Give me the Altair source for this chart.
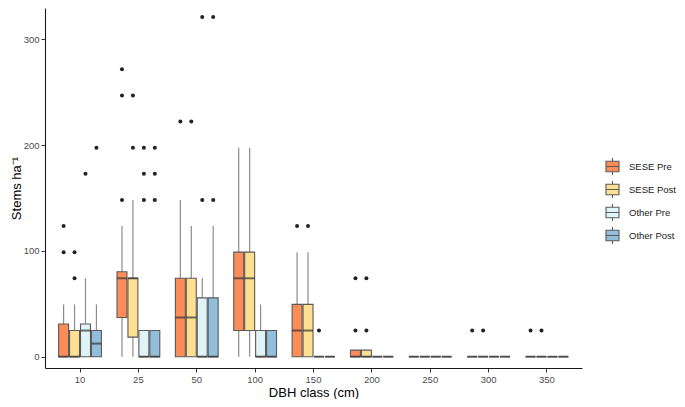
import altair as alt
import pandas as pd

classes = ["10", "25", "50", "100", "150", "200", "250", "300", "350"]
groups = ["SESE Pre", "SESE Post", "Other Pre", "Other Post"]
colors = ["#FC8D59", "#FEE090", "#E0F3F8", "#91BFDB"]

# box statistics per group, one value per DBH class
sese_pre_lower = [0, 0, 0, 0, 0, 0, 0, 0, 0]
sese_pre_q1 = [0, 37.05, 0, 24.7, 0, 0, 0, 0, 0]
sese_pre_med = [0, 74.1, 37.05, 74.1, 24.7, 0, 0, 0, 0]
sese_pre_q3 = [30.9, 80.3, 74.1, 98.8, 49.4, 6.2, 0, 0, 0]
sese_pre_upper = [49.4, 123.5, 148.2, 197.6, 98.8, 0, 0, 0, 0]
sese_pre_out = [[98.8, 123.5], [148.2, 247, 271.7], [222.3], [], [123.5], [24.7, 74.1], [], [24.7], [24.7]]

sese_post_lower = [0, 0, 0, 0, 0, 0, 0, 0, 0]
sese_post_q1 = [0, 18.5, 0, 24.7, 0, 0, 0, 0, 0]
sese_post_med = [0, 74.1, 37.05, 74.1, 24.7, 0, 0, 0, 0]
sese_post_q3 = [24.7, 74.1, 74.1, 98.8, 49.4, 6.2, 0, 0, 0]
sese_post_upper = [49.4, 148.2, 123.5, 197.6, 98.8, 0, 0, 0, 0]
sese_post_out = [[74.1, 98.8], [197.6, 247], [222.3], [], [123.5], [24.7, 74.1], [], [24.7], [24.7]]

other_pre_lower = [0, 0, 0, 0, 0, 0, 0, 0, 0]
other_pre_q1 = [0, 0, 0, 0, 0, 0, 0, 0, 0]
other_pre_med = [24.7, 0, 0, 0, 0, 0, 0, 0, 0]
other_pre_q3 = [30.9, 24.7, 55.6, 24.7, 0, 0, 0, 0, 0]
other_pre_upper = [74.1, 24.7, 74.1, 49.4, 0, 0, 0, 0, 0]
other_pre_out = [[172.9], [148.2, 172.9, 197.6], [148.2, 321.1], [], [24.7], [], [], [], []]

other_post_lower = [0, 0, 0, 0, 0, 0, 0, 0, 0]
other_post_q1 = [0, 0, 0, 0, 0, 0, 0, 0, 0]
other_post_med = [12.35, 0, 0, 0, 0, 0, 0, 0, 0]
other_post_q3 = [24.7, 24.7, 55.6, 24.7, 0, 0, 0, 0, 0]
other_post_upper = [49.4, 24.7, 123.5, 24.7, 0, 0, 0, 0, 0]
other_post_out = [[197.6], [148.2, 172.9, 197.6], [148.2, 321.1], [], [], [], [], [], []]

stats = {
    "SESE Pre": (sese_pre_lower, sese_pre_q1, sese_pre_med, sese_pre_q3, sese_pre_upper, sese_pre_out),
    "SESE Post": (sese_post_lower, sese_post_q1, sese_post_med, sese_post_q3, sese_post_upper, sese_post_out),
    "Other Pre": (other_pre_lower, other_pre_q1, other_pre_med, other_pre_q3, other_pre_upper, other_pre_out),
    "Other Post": (other_post_lower, other_post_q1, other_post_med, other_post_q3, other_post_upper, other_post_out),
}

box_rows, out_rows = [], []
for g in groups:
    lo, q1, md, q3, up, outs = stats[g]
    for i, c in enumerate(classes):
        box_rows.append(dict(cls=c, group=g, lower=lo[i], q1=q1[i], median=md[i], q3=q3[i], upper=up[i]))
        for v in outs[i]:
            out_rows.append(dict(cls=c, group=g, value=v))
box_df = pd.DataFrame(box_rows)
out_df = pd.DataFrame(out_rows)

x_enc = alt.X("cls:N", sort=classes, title="DBH class (cm)",
              scale=alt.Scale(paddingInner=0.25, paddingOuter=0.225),
              axis=alt.Axis(labelAngle=0))
xo_enc = alt.XOffset("group:N", sort=groups, scale=alt.Scale(paddingInner=0.09, paddingOuter=0.045))
y_scale = alt.Scale(domain=[-10.7, 329.6], nice=False, zero=False)
y_axis = alt.Axis(values=[0, 100, 200, 300], title="Stems ha⁻¹")

base = alt.Chart(box_df)

whisk = base.mark_rule(color="#8c8c8c", strokeWidth=1.2).encode(
    x=x_enc, xOffset=xo_enc,
    y=alt.Y("lower:Q", scale=y_scale, axis=y_axis), y2="upper:Q")

box = base.mark_bar(stroke="#5a5a5a", strokeWidth=1.1).encode(
    x=x_enc, xOffset=xo_enc,
    y=alt.Y("q1:Q", scale=y_scale, axis=y_axis), y2="q3:Q",
    color=alt.Color("group:N", sort=groups,
                    scale=alt.Scale(domain=groups, range=colors),
                    legend=alt.Legend(title=None, orient="none", legendX=560, legendY=151,
                                      symbolType="M0,-1.3V-0.8M-1,-0.8H1V0.8H-1ZM-1,0H1M0,0.8V1.3",
                                      symbolSize=169, symbolStrokeColor="#5a5a5a",
                                      symbolStrokeWidth=1.1, symbolOpacity=1,
                                      labelFontSize=9.5, labelColor="#1a1a1a",
                                      labelOffset=9, rowPadding=0)))

med = base.mark_tick(color="#333333", thickness=2, size=10).encode(
    x=x_enc, xOffset=xo_enc,
    y=alt.Y("median:Q", scale=y_scale, axis=y_axis))

pts = alt.Chart(out_df).mark_circle(size=16, color="#222222", opacity=1).encode(
    x=x_enc, xOffset=xo_enc,
    y=alt.Y("value:Q", scale=y_scale, axis=y_axis))

chart = alt.layer(whisk, box, med, pts).properties(
    width=537, height=360,
    autosize=alt.AutoSizeParams(type="none"),
    padding={"left": 37, "top": 0, "right": 95, "bottom": 31},
).configure_view(stroke=None).configure_axis(
    grid=False, domainColor="#1a1a1a", domainWidth=1.1,
    tickColor="#333333", tickSize=4, labelPadding=2,
    labelColor="#4d4d4d", labelFontSize=9.5, labelFont="Liberation Sans",
    titleFont="Liberation Sans", titleFontSize=13, titleFontWeight="normal",
    titleColor="#000000",
).configure_axisY(titlePadding=0).configure_axisX(titlePadding=3).configure_legend(
    labelFont="Liberation Sans")

chart.save("out.html", embed_options={"renderer": "svg", "actions": False})
